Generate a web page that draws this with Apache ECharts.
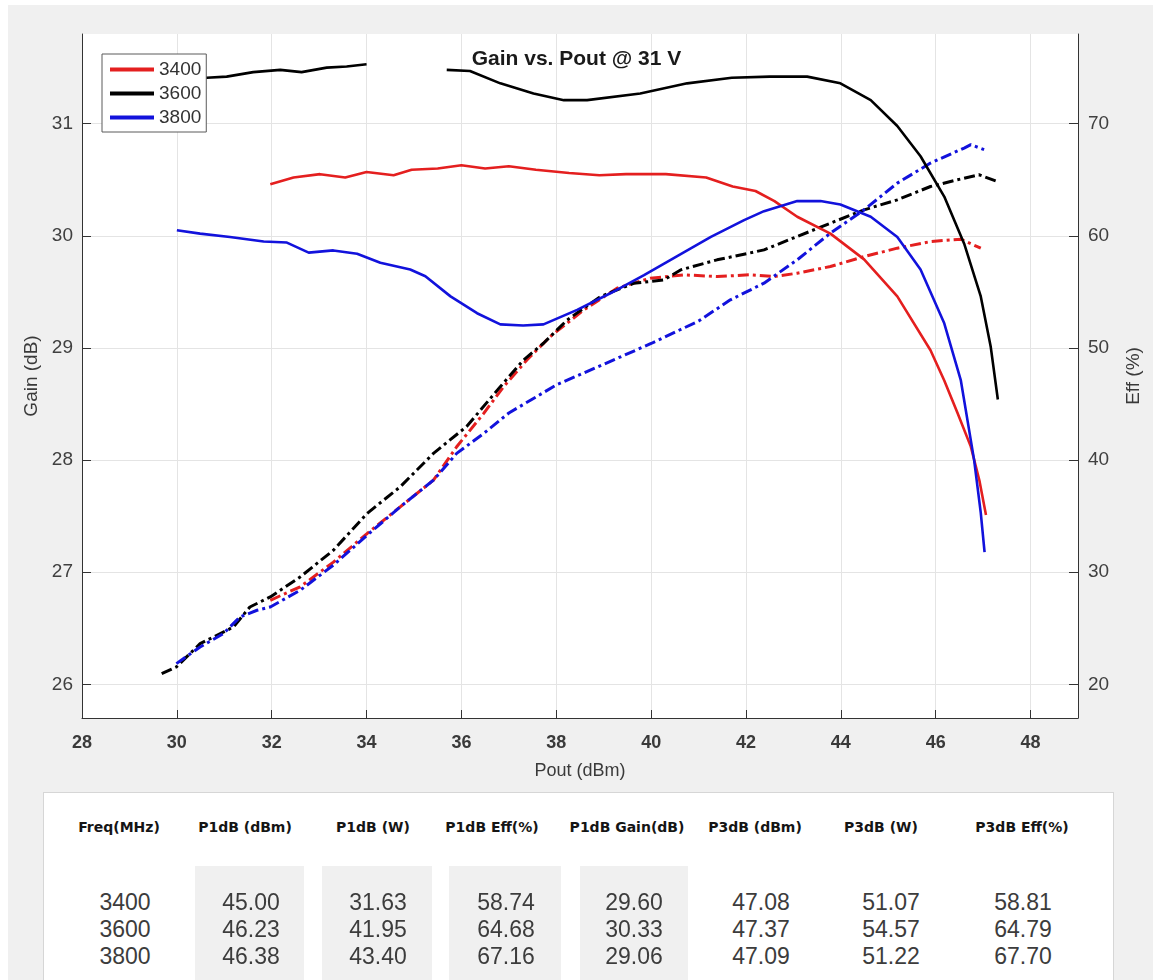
<!DOCTYPE html>
<html>
<head>
<meta charset="utf-8">
<script src="https://cdn.jsdelivr.net/npm/echarts@6/dist/echarts.min.js"></script>
<style>
html,body{margin:0;padding:0;width:1153px;height:980px;overflow:hidden;background:#ffffff;font-family:"Liberation Sans",Arial,sans-serif;}
#panel{position:absolute;left:8px;top:5px;width:1145px;height:975px;background:#f0f0f0;}
#chart{position:absolute;left:0;top:0;width:1153px;height:980px;}
#table{position:absolute;left:43px;top:792px;width:1071px;height:200px;background:#ffffff;border:1px solid #d6d6d6;box-sizing:border-box;}
.shade{position:absolute;background:#f0f0f0;}
.hdr{position:absolute;transform:translateX(-50%);white-space:nowrap;font-family:"DejaVu Sans",sans-serif;font-weight:bold;font-size:14px;line-height:16px;color:#151515;}
.val{position:absolute;transform:translateX(-50%);white-space:nowrap;font-family:"Liberation Sans",Arial,sans-serif;font-size:23px;line-height:27px;color:#3c3c3c;text-align:center;}
</style>
</head>
<body>
<div id="panel"></div>
<div id="chart"></div>
<div id="table"></div>
<script>
// ---------------- chart data ----------------
const seriesNames = ['3400', '3600', '3800'];

// Gain (dB) vs Pout (dBm), solid lines
const poutGain3400 = [31.97, 32.46, 33.02, 33.55, 34.0, 34.57, 34.95, 35.5, 36.0, 36.5, 37.0, 37.57, 38.27, 38.91, 39.47, 40.31, 41.16, 41.72, 42.2, 42.6, 43.08, 43.78, 44.49, 45.19, 45.89, 46.18, 46.46, 46.74, 46.92, 47.06];
const gain3400     = [30.46, 30.52, 30.55, 30.52, 30.57, 30.54, 30.59, 30.60, 30.63, 30.60, 30.62, 30.59, 30.56, 30.54, 30.55, 30.55, 30.52, 30.44, 30.40, 30.31, 30.17, 30.02, 29.79, 29.46, 28.98, 28.71, 28.42, 28.12, 27.82, 27.51];

const poutGain3600 = [29.68, 30.2, 30.63, 31.05, 31.61, 32.18, 32.63, 33.16, 33.58, 34.0, 34.85, 35.69, 36.18, 36.82, 37.52, 38.16, 38.65, 39.77, 40.76, 41.7, 42.5, 43.29, 43.99, 44.63, 45.19, 45.68, 46.18, 46.6, 46.95, 47.16, 47.31];
const gain3600     = [31.38, 31.40, 31.41, 31.42, 31.46, 31.48, 31.46, 31.50, 31.51, 31.53, null, 31.48, 31.47, 31.36, 31.27, 31.21, 31.21, 31.27, 31.36, 31.41, 31.42, 31.42, 31.36, 31.21, 30.98, 30.71, 30.35, 29.93, 29.46, 29.01, 28.54];

const poutGain3800 = [30.0, 30.49, 31.12, 31.83, 32.32, 32.78, 33.30, 33.80, 34.29, 34.92, 35.24, 35.77, 36.33, 36.82, 37.3, 37.73, 38.44, 39.15, 39.85, 40.55, 41.26, 41.96, 42.38, 43.08, 43.57, 43.99, 44.63, 45.19, 45.68, 46.18, 46.53, 46.81, 46.95, 47.03];
const gain3800     = [30.05, 30.02, 29.99, 29.95, 29.94, 29.85, 29.87, 29.84, 29.76, 29.70, 29.64, 29.46, 29.31, 29.21, 29.20, 29.21, 29.34, 29.49, 29.65, 29.82, 29.99, 30.14, 30.22, 30.31, 30.31, 30.28, 30.17, 29.99, 29.70, 29.22, 28.71, 28.00, 27.53, 27.18];

// Efficiency (%) vs Pout (dBm), dash-dot lines
const poutEff3400 = [31.97, 32.6, 33.3, 34.01, 34.71, 35.41, 35.9, 36.47, 36.89, 37.38, 37.87, 38.58, 39.28, 39.98, 40.69, 41.39, 42.06, 42.6, 43.08, 43.78, 44.49, 45.19, 45.89, 46.53, 46.95];
const eff3400     = [27.5, 28.7, 30.9, 33.45, 35.83, 38.21, 41.19, 44.17, 46.55, 48.93, 51.01, 53.39, 55.33, 56.22, 56.52, 56.37, 56.52, 56.37, 56.67, 57.26, 58.15, 58.90, 59.49, 59.70, 58.90];

const poutEff3600 = [29.68, 29.99, 30.49, 30.77, 31.19, 31.54, 31.97, 32.6, 33.3, 34.01, 34.71, 35.41, 36.11, 36.82, 37.31, 37.73, 38.23, 38.93, 39.63, 40.27, 40.62, 41.39, 42.06, 42.38, 43.08, 43.78, 44.49, 45.19, 45.89, 46.46, 46.91, 47.30];
const eff3600     = [20.95, 21.55, 23.63, 24.22, 25.11, 26.90, 27.80, 29.58, 31.96, 35.24, 37.62, 40.60, 43.0, 46.55, 48.93, 50.42, 52.50, 54.58, 55.77, 56.07, 56.96, 57.86, 58.45, 58.75, 59.94, 61.13, 62.32, 63.21, 64.40, 65.0, 65.45, 64.85];

const poutEff3800 = [29.99, 30.49, 30.98, 31.33, 31.69, 31.97, 32.6, 33.3, 34.01, 34.71, 35.41, 35.9, 36.47, 37.0, 38.0, 39.0, 40.0, 41.0, 41.67, 42.38, 43.08, 43.78, 44.49, 45.19, 45.89, 46.6, 46.74, 47.02];
const eff3800     = [21.85, 23.33, 24.52, 26.01, 26.61, 26.90, 28.39, 30.63, 33.30, 35.83, 38.21, 40.60, 42.38, 44.2, 46.7, 48.55, 50.4, 52.4, 54.29, 55.78, 57.86, 60.24, 62.32, 64.70, 66.49, 67.83, 68.13, 67.68];

// ---------------- table data ----------------
const tableHeaders = ['Freq(MHz)', 'P1dB (dBm)', 'P1dB (W)', 'P1dB Eff(%)', 'P1dB Gain(dB)', 'P3dB (dBm)', 'P3dB (W)', 'P3dB Eff(%)'];
const freqCol    = ['3400', '3600', '3800'];
const p1dbDbm    = ['45.00', '46.23', '46.38'];
const p1dbW      = ['31.63', '41.95', '43.40'];
const p1dbEff    = ['58.74', '64.68', '67.16'];
const p1dbGain   = ['29.60', '30.33', '29.06'];
const p3dbDbm    = ['47.08', '47.37', '47.09'];
const p3dbW      = ['51.07', '54.57', '51.22'];
const p3dbEff    = ['58.81', '64.79', '67.70'];

// ---------------- build chart ----------------
const zip = (xs, ys) => xs.map((x, i) => [x, ys[i]]);
const colors = ['#e41f1f', '#000000', '#1212dc'];

const chart = echarts.init(document.getElementById('chart'), null, {renderer: 'canvas'});

const gainSets = [[poutGain3400, gain3400], [poutGain3600, gain3600], [poutGain3800, gain3800]];
const effSets = [[poutEff3400, eff3400], [poutEff3600, eff3600], [poutEff3800, eff3800]];

const series = [];
effSets.forEach((s, i) => {
  series.push({
    name: seriesNames[i] + ' Eff',
    type: 'line',
    yAxisIndex: 1,
    data: zip(s[0], s[1]),
    showSymbol: false,
    symbol: 'none',
    connectNulls: false,
    lineStyle: {color: colors[i], width: 3, type: [11, 4, 3, 4], cap: 'butt'},
    itemStyle: {color: colors[i]},
    z: 2
  });
});
gainSets.forEach((s, i) => {
  series.push({
    name: seriesNames[i],
    type: 'line',
    yAxisIndex: 0,
    data: zip(s[0], s[1]),
    showSymbol: false,
    symbol: 'none',
    connectNulls: false,
    lineStyle: {color: colors[i], width: 2.6},
    itemStyle: {color: colors[i]},
    z: 3
  });
});

const axisColor = '#333333';
const gridColor = '#e4e4e4';

chart.setOption({
  animation: false,
  backgroundColor: 'transparent',
  textStyle: {fontFamily: '"Liberation Sans", Arial, sans-serif'},
  title: {
    text: 'Gain vs. Pout @ 31 V',
    left: 'center',
    top: 44,
    textStyle: {fontSize: 21, fontWeight: 'bold', color: '#1a1a1a', fontFamily: '"Liberation Sans", Arial, sans-serif'}
  },
  legend: {
    data: seriesNames,
    orient: 'vertical',
    left: 102,
    top: 54,
    icon: 'rect',
    itemWidth: 44,
    itemHeight: 4,
    itemGap: 5,
    padding: [6, 5, 5, 8],
    backgroundColor: '#ffffff',
    borderColor: '#5a5a5a',
    borderWidth: 1,
    borderRadius: 0,
    textStyle: {fontSize: 19, lineHeight: 18, color: '#333333', fontFamily: '"Liberation Sans", Arial, sans-serif'},
    selectedMode: false
  },
  grid: {
    left: 82, right: 75, top: 34, bottom: 262,
    show: true, backgroundColor: '#ffffff', borderWidth: 0,
    containLabel: false, outerBoundsMode: 'none'
  },
  xAxis: {
    type: 'value',
    min: 28, max: 49, interval: 2,
    name: 'Pout (dBm)',
    nameLocation: 'middle',
    nameGap: 44,
    nameTextStyle: {fontSize: 18, color: '#3a3a3a'},
    axisLine: {show: true, lineStyle: {color: axisColor, width: 1}},
    axisTick: {show: true, inside: true, length: 8, lineStyle: {color: axisColor}},
    axisLabel: {fontSize: 18, fontWeight: 'bold', color: '#3a3a3a', margin: 16, showMaxLabel: false},
    splitLine: {show: true, lineStyle: {color: gridColor, width: 1}}
  },
  yAxis: [
    {
      type: 'value',
      position: 'left',
      min: 25.7, max: 31.8,
      name: 'Gain (dB)',
      nameLocation: 'middle',
      nameGap: 40,
      nameTextStyle: {fontSize: 19, color: '#3a3a3a'},
      axisLine: {show: true, lineStyle: {color: axisColor, width: 1}},
      axisTick: {show: true, inside: true, length: 9, lineStyle: {color: axisColor}},
      axisLabel: {fontSize: 19, color: '#404040', margin: 9, showMinLabel: false, showMaxLabel: false},
      splitLine: {show: true, showMinLine: false, showMaxLine: false, lineStyle: {color: gridColor, width: 1}}
    },
    {
      type: 'value',
      position: 'right',
      min: 17, max: 78,
      name: 'Eff (%)',
      nameLocation: 'middle',
      nameGap: 46,
      nameTextStyle: {fontSize: 19, color: '#3a3a3a'},
      axisLine: {show: true, lineStyle: {color: axisColor, width: 1}},
      axisTick: {show: true, inside: true, length: 9, lineStyle: {color: axisColor}},
      axisLabel: {fontSize: 19, color: '#404040', margin: 10, showMinLabel: false, showMaxLabel: false},
      splitLine: {show: false}
    }
  ],
  series: series
});

// ---------------- build table ----------------
const tbl = document.getElementById('table');
const tblLeft = 43, tblTop = 792;
const colCentersHdr = [119, 245, 373, 492, 627, 755, 881, 1022];
const colCentersVal = [125, 251, 378, 506, 634, 761, 891, 1023];
const shadeRanges = [[195, 304], [322, 432], [449, 561], [580, 688]];
const columns = [freqCol, p1dbDbm, p1dbW, p1dbEff, p1dbGain, p3dbDbm, p3dbW, p3dbEff];

shadeRanges.forEach(r => {
  const d = document.createElement('div');
  d.className = 'shade';
  d.style.left = (r[0] - tblLeft - 1) + 'px';
  d.style.width = (r[1] - r[0]) + 'px';
  d.style.top = (866 - tblTop - 1) + 'px';
  d.style.height = '200px';
  tbl.appendChild(d);
});
tableHeaders.forEach((h, i) => {
  const d = document.createElement('div');
  d.className = 'hdr';
  d.textContent = h;
  d.style.left = (colCentersHdr[i] - tblLeft - 1) + 'px';
  d.style.top = (827 - 8 - tblTop - 1) + 'px';
  tbl.appendChild(d);
});
columns.forEach((col, i) => {
  const d = document.createElement('div');
  d.className = 'val';
  d.innerHTML = col.join('<br>');
  d.style.left = (colCentersVal[i] - tblLeft - 1) + 'px';
  d.style.top = (902 - 13.5 - tblTop - 1) + 'px';
  tbl.appendChild(d);
});
</script>
</body>
</html>
